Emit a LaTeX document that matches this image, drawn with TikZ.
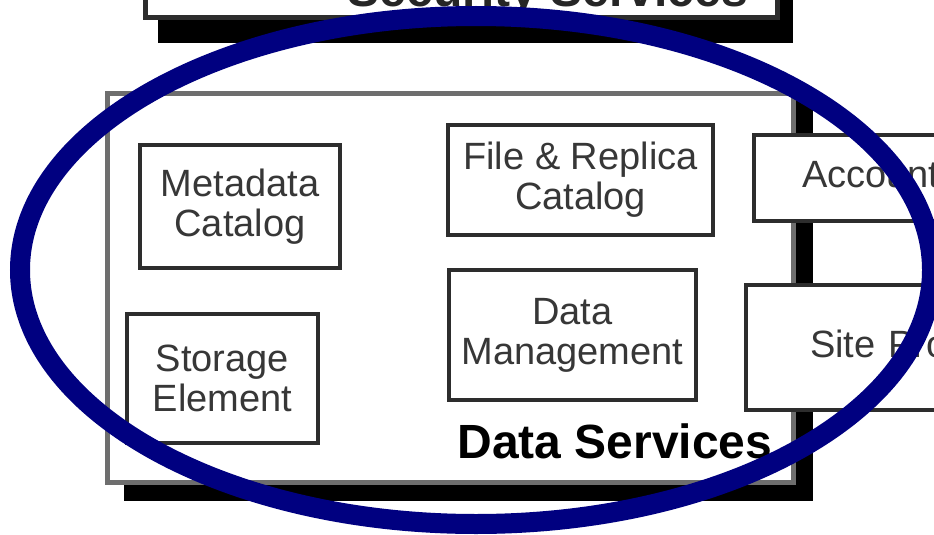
\documentclass[tikz,border=0pt]{standalone}
\usepackage{fontspec}
\setmainfont{Liberation Sans}
\definecolor{navyc}{RGB}{0,0,128}
\definecolor{boxline}{RGB}{45,45,45}
\definecolor{boxtext}{RGB}{55,55,55}
\definecolor{outerline}{RGB}{110,110,110}
\begin{document}
\begin{tikzpicture}[x=1pt,y=-1pt,
  comp/.style={draw=boxline, line width=4pt, fill=white, text=boxtext,
    font=\fontsize{38}{40}\selectfont, align=center, inner sep=0pt, anchor=center},
  bigtitle/.style={font=\fontsize{48}{50}\selectfont\bfseries, text=black, inner sep=0pt, anchor=base},
  shadowfill/.style={fill=black, draw=none},
]
\useasboundingbox (0,0) rectangle (934,535);
\clip (0,0) rectangle (934,535);

% Security Services box (top, mostly outside the view)
\fill[shadowfill] (158,-60) rectangle (793,43);
\node[draw=boxline, line width=5pt, fill=white, inner sep=0pt, anchor=south west,
      minimum width=632pt, minimum height=120pt] (security) at (143,20) {};
\node[bigtitle, text=black!85] (securitylabel) at (548,7) {Security Services};

% Data Services container
\fill[shadowfill] (124,100) rectangle (813,501);
\node[draw=outerline, line width=4.5pt, fill=white, inner sep=0pt, anchor=north west,
      minimum width=686pt, minimum height=389pt] (dataservices) at (105,91) {};

% Components
\node[comp, minimum width=200pt, minimum height=123pt] (meta) at (240,206.5) {Metadata\\Catalog};
\node[comp, minimum width=265pt, minimum height=110pt] (file) at (580.5,180) {File \& Replica\\Catalog};
\node[comp, minimum width=247pt, minimum height=130pt] (dm) at (572.5,335) {Data\\Management};
\node[comp, minimum width=191pt, minimum height=129pt] (storage) at (222.5,378.5) {Storage\\Element};
\node[comp, anchor=west, minimum height=86pt, inner xsep=48pt, text width=400pt, align=left] (acct) at (752,178) {Accounting};
\node[comp, anchor=west, minimum height=125pt, inner xsep=64pt, text width=400pt, align=left] (site) at (744,347.5) {Site Proxy};

\node[bigtitle] (dslabel) at (615,458) {Data Services};

% Highlight ellipse
\draw[navyc, line width=20pt] (476,270) ellipse [x radius=456pt, y radius=254pt];
\end{tikzpicture}
\end{document}
